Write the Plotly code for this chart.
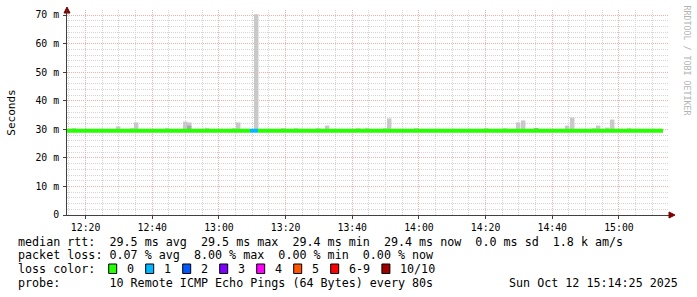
import plotly.graph_objects as go

DAY = "2025-10-12 "

# ---- data ----
smoke_start = ["12:15:55", "12:29:07", "12:33:19", "12:34:31", "12:43:49", "12:49:13",
               "12:50:25", "12:55:49", "13:03:55", "13:05:07", "13:10:31", "13:18:37",
               "13:22:31", "13:29:07", "13:31:49", "13:41:07", "13:43:49", "13:49:13",
               "13:50:25", "13:58:31", "14:19:31", "14:25:13", "14:29:07", "14:30:37",
               "14:34:31", "14:43:49", "14:45:19", "14:51:55", "14:53:07", "14:55:49",
               "14:57:19", "15:02:25"]
smoke_top = [30.4, 31.0, 30.4, 32.4, 30.4, 32.7,
             32.4, 30.4, 30.4, 32.4, 70.3, 30.4,
             30.4, 30.4, 31.3, 30.4, 30.4, 30.4,
             33.8, 30.4, 30.4, 30.4, 32.4, 33.1,
             30.4, 31.3, 34.1, 30.4, 31.3, 30.6,
             33.4, 30.4]
smoke_dark_start = ["12:50:25", "14:34:31"]
smoke_dark_top = [31.3, 30.4]

median_seg_start = ["12:14:25", "13:09:19", "13:11:43"]
median_seg_end = ["13:09:19", "13:11:43", "15:13:13"]
median_val = [29.5, 29.5, 29.5]
median_loss = [0, 1, 0]

loss_labels = ["0", "1", "2", "3", "4", "5", "6-9", "10/10"]
loss_colors = ["#26ff00", "#00b8ff", "#0059ff", "#7e00ff", "#ff00ff", "#ff5500", "#ff0000", "#a10000"]

y_tickvals = [0, 10, 20, 30, 40, 50, 60, 70]
y_ticktext = ["0", "10 m", "20 m", "30 m", "40 m", "50 m", "60 m", "70 m"]

legend_lines = [
    "median rtt:  29.5 ms avg  29.5 ms max  29.4 ms min  29.4 ms now  0.0 ms sd  1.8 k am/s",
    "packet loss: 0.07 % avg  8.00 % max  0.00 % min  0.00 % now",
    "loss color:",
    "probe:       10 Remote ICMP Echo Pings (64 Bytes) every 80s",
]
timestamp = "Sun Oct 12 15:14:25 2025"
watermark = "RRDTOOL / TOBI OETIKER"
y_title = "Seconds"

# ---- geometry ----
W, H = 697, 297
L, R, T, B = 67, 28, 10, 82
PW, PH = W - L - R, H - T - B
BASE = 29.5


def px(x):
    return (x - L) / PW


def py(y):
    return (H - B - y) / PH


MONO = "DejaVu Sans Mono"
fig = go.Figure()

# smoke
fig.add_trace(go.Bar(
    x=[DAY + t for t in smoke_start], y=[v - BASE for v in smoke_top], base=BASE,
    width=80000, offset=0, marker=dict(color="#c9c9c9", line=dict(width=0)),
    hoverinfo="skip"))
fig.add_trace(go.Bar(
    x=[DAY + t for t in smoke_dark_start], y=[v - BASE for v in smoke_dark_top], base=BASE,
    width=80000, offset=0, marker=dict(color="#a8a8a8", line=dict(width=0)),
    hoverinfo="skip"))

# median line segments coloured by loss
for s, e, v, lo in zip(median_seg_start, median_seg_end, median_val, median_loss):
    fig.add_trace(go.Scatter(
        x=[DAY + s, DAY + e], y=[v, v], mode="lines",
        line=dict(color=loss_colors[lo], width=4), hoverinfo="skip"))

grid_minor = "#d4d4d4"
grid_major = "#f0b0b0"
axis_col = "#404040"

fig.update_layout(
    width=W, height=H, margin=dict(l=L, r=R, t=T, b=B),
    paper_bgcolor="white", plot_bgcolor="white",
    showlegend=False, barmode="overlay", hovermode=False,
    font=dict(family=MONO, color="black"),
    xaxis=dict(
        type="date", range=[DAY + "12:14:25", DAY + "15:15:01"],
        dtick=1200000, tickformat="%H:%M",
        showgrid=True, gridcolor=grid_major, griddash="1px,1px", gridwidth=1,
        minor=dict(dtick=300000, showgrid=True, gridcolor=grid_minor, griddash="1px,1px", gridwidth=1),
        showline=True, linecolor=axis_col, linewidth=1,
        ticks="outside", ticklen=3, tickcolor=axis_col,
        tickfont=dict(family=MONO, size=9.8, color="black"),
        zeroline=False, fixedrange=True),
    yaxis=dict(
        range=[0, PH / 2.857], tickvals=y_tickvals, ticktext=y_ticktext,
        showgrid=True, gridcolor=grid_major, griddash="1px,1px", gridwidth=1,
        minor=dict(dtick=2, showgrid=True, gridcolor=grid_minor, griddash="1px,1px", gridwidth=1),
        showline=True, linecolor=axis_col, linewidth=1,
        ticks="outside", ticklen=3, tickcolor=axis_col, ticklabelstandoff=2,
        tickfont=dict(family=MONO, size=9.8, color="black"),
        zeroline=False, fixedrange=True),
)

ann = []
# y title
ann.append(dict(text=y_title, x=px(10.7), y=py(113), xref="paper", yref="paper",
                textangle=-90, showarrow=False, xanchor="center", yanchor="middle",
                font=dict(family=MONO, size=11, color="black")))
# watermark
ann.append(dict(text=watermark, x=px(686.5), y=py(60), xref="paper", yref="paper",
                textangle=90, showarrow=False, xanchor="center", yanchor="middle",
                font=dict(family=MONO, size=8.3, color="#b4b4b4")))
# legend lines
line_y = [241.7, 255.2, 268.8, 282.5]
for txt, yy in zip(legend_lines, line_y):
    ann.append(dict(text=txt.replace(" ", "&nbsp;"), x=px(16), y=py(yy), xref="paper", yref="paper",
                    showarrow=False, xanchor="left", yanchor="middle",
                    font=dict(family=MONO, size=11.7, color="black")))
ann.append(dict(text=timestamp, x=px(680), y=py(line_y[3]), xref="paper", yref="paper",
                showarrow=False, xanchor="right", yanchor="middle",
                font=dict(family=MONO, size=11.7, color="black")))

shapes = []
sq_x = [108.7 + 37 * i for i in range(7)] + [381.9]
for sx, lab, col in zip(sq_x, loss_labels, loss_colors):
    shapes.append(dict(type="rect", xref="paper", yref="paper",
                       x0=px(sx), x1=px(sx + 8), y0=py(273.5), y1=py(264),
                       fillcolor=col, line=dict(color="black", width=1)))
    ann.append(dict(text=lab, x=px(sx + 16.3), y=py(line_y[2]), xref="paper", yref="paper",
                    showarrow=False, xanchor="left", yanchor="middle",
                    font=dict(family=MONO, size=11.7, color="black")))

# axis arrows
def tri(pts):
    return "M " + " L ".join(f"{px(a)},{py(b)}" for a, b in pts) + " Z"

shapes.append(dict(type="path", xref="paper", yref="paper",
                   path=tri([(67, 7), (64, 13), (70, 13)]),
                   fillcolor="#7f0000", line=dict(color="#7f0000", width=1)))
shapes.append(dict(type="path", xref="paper", yref="paper",
                   path=tri([(675, 215), (669, 212), (669, 218)]),
                   fillcolor="#7f0000", line=dict(color="#7f0000", width=1)))
# axis stub extension up to arrow
shapes.append(dict(type="line", xref="paper", yref="paper",
                   x0=px(67), x1=px(67), y0=py(10), y1=py(13),
                   line=dict(color=axis_col, width=1)))

fig.update_layout(annotations=ann, shapes=shapes)
fig.write_html("out.html")
